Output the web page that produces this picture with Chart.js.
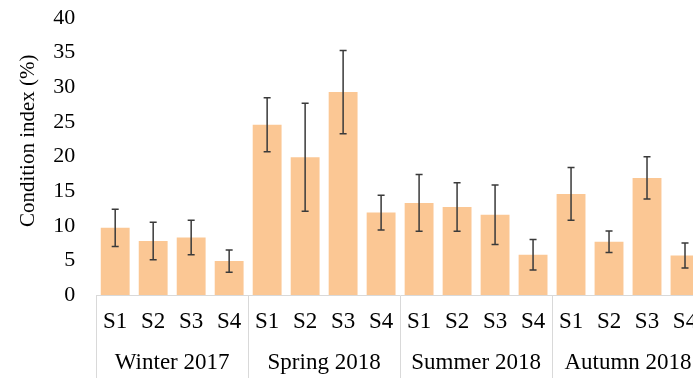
<!DOCTYPE html>
<html>
<head>
<meta charset="utf-8">
<script src="https://cdn.jsdelivr.net/npm/chart.js@4/dist/chart.umd.min.js"></script>
<style>
    html, body { margin: 0; padding: 0; overflow: hidden; background: #fff; }
    #wrap { position: relative; width: 704px; height: 378px; }
</style>
</head>
<body>
<div id="wrap"><canvas id="chart"></canvas></div>
<script>
// Data.
const sites = ["S1", "S2", "S3", "S4"];
const seasons = ["Winter 2017", "Spring 2018", "Summer 2018", "Autumn 2018"];
const condition_mean = [9.7, 7.8, 8.3, 4.9, 24.6, 19.9, 29.3, 11.9, 13.3, 12.7, 11.6, 5.8, 14.6, 7.7, 16.9, 5.7];
const condition_err = [2.7, 2.7, 2.5, 1.6, 3.9, 7.8, 6.0, 2.5, 4.1, 3.5, 4.3, 2.2, 3.8, 1.55, 3.05, 1.8];
const y_ticks = [0, 5, 10, 15, 20, 25, 30, 35, 40];

const font_family = "'Liberation Serif', 'Times New Roman', serif";
const line_color = "#d9d9d9";

// One S label per bar, four per season.
const labels = [];
seasons.forEach(() => sites.forEach(s => labels.push(s)));

// Error bars drawn from the y scale.
const error_bars = {
    id: "error_bars",
    afterDatasetsDraw(chart) {
        const ctx = chart.ctx;
        const y = chart.scales.y;
        const meta = chart.getDatasetMeta(0);
        ctx.save();
        ctx.strokeStyle = "#3a3a3a";
        ctx.lineWidth = 1.5;
        meta.data.forEach((bar, i) => {
            const top = y.getPixelForValue(condition_mean[i] + condition_err[i]);
            const bottom = y.getPixelForValue(condition_mean[i] - condition_err[i]);
            ctx.beginPath();
            ctx.moveTo(bar.x, top);
            ctx.lineTo(bar.x, bottom);
            ctx.moveTo(bar.x - 3.5, top);
            ctx.lineTo(bar.x + 3.5, top);
            ctx.moveTo(bar.x - 3.5, bottom);
            ctx.lineTo(bar.x + 3.5, bottom);
            ctx.stroke();
        });
        ctx.restore();
    }
};

const config = {
    type: "bar",
    data: {
        labels: labels,
        datasets: [{
            data: condition_mean,
            backgroundColor: "#fbc794",
            borderWidth: 0,
            categoryPercentage: 1,
            barPercentage: 0.76,
        }]
    },
    options: {
        responsive: true,
        maintainAspectRatio: false,
        animation: false,
        layout: {
            padding: { left: 16, top: 18, right: 0, bottom: 0 },
        },
        plugins: {
            legend: { display: false },
            tooltip: { enabled: false },
        },
        scales: {
            x: {
                position: "bottom",
                weight: 0,
                offset: true,
                // Tall tick marks act as the group separators; keep the box tall enough for the labels.
                afterFit: (scale) => { scale.height = 41; },
                grid: {
                    offset: true,
                    drawOnChartArea: false,
                    drawTicks: true,
                    tickLength: 41,
                    lineWidth: 1,
                    color: (c) => (c.index % 4 === 0 ? line_color : "rgba(0,0,0,0)"),
                },
                border: { display: true, color: line_color, width: 1 },
                ticks: {
                    autoSkip: false,
                    maxRotation: 0,
                    minRotation: 0,
                    padding: -27.8,
                    color: "#000",
                    font: { family: font_family, size: 23 },
                },
            },
            x2: {
                type: "category",
                position: "bottom",
                weight: 1,
                labels: seasons,
                offset: true,
                afterFit: (scale) => { scale.height = 42; },
                grid: {
                    offset: true,
                    drawOnChartArea: false,
                    drawTicks: true,
                    tickLength: 42,
                    lineWidth: 1,
                    color: line_color,
                },
                border: { display: false },
                ticks: {
                    autoSkip: false,
                    maxRotation: 0,
                    minRotation: 0,
                    padding: -28.8,
                    color: "#000",
                    font: { family: font_family, size: 23 },
                },
            },
            y: {
                min: 0,
                max: 40,
                afterBuildTicks: (scale) => {
                    scale.ticks = y_ticks.map(v => ({ value: v }));
                },
                // Tick padding would otherwise push the plot top down.
                afterFit: (scale) => {
                    scale.paddingTop = 13;
                    scale.paddingBottom = 13;
                },
                grid: { display: false, drawTicks: false },
                border: { display: false },
                ticks: {
                    padding: 21,
                    color: "#000",
                    font: { family: font_family, size: 22 },
                },
                title: {
                    display: true,
                    text: "      Condition index (%)",
                    color: "#000",
                    padding: { top: 0, bottom: -9 },
                    font: { family: font_family, size: 21 },
                },
            },
        },
    },
    plugins: [error_bars],
};

// Draw graph.
window.myChart = new Chart(document.getElementById("chart"), config);
</script>
</body>
</html>
